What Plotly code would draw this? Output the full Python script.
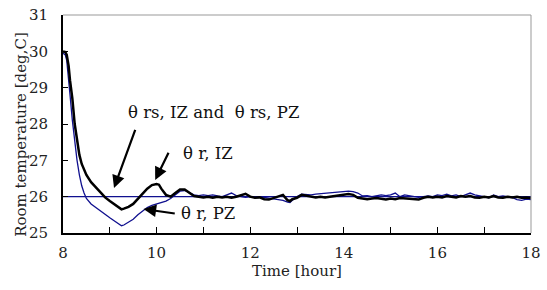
import plotly.graph_objects as go

# Time [hour]
time_h = [8.00, 8.05, 8.08, 8.12, 8.15, 8.20, 8.25, 8.30, 8.35, 8.40, 8.45, 8.50,
          8.6, 8.7, 8.8, 8.9, 9.0, 9.1, 9.2, 9.25, 9.3, 9.4, 9.5, 9.6, 9.7, 9.8, 9.9,
          10.0, 10.05, 10.1, 10.2, 10.3, 10.4, 10.5, 10.6, 10.7, 10.8, 10.9,
          11.0, 11.1, 11.2, 11.3, 11.4, 11.5, 11.6, 11.7, 11.8, 11.9,
          12.0, 12.1, 12.2, 12.3, 12.4, 12.5, 12.6, 12.7, 12.8, 12.85, 12.9,
          13.0, 13.1, 13.2, 13.3, 13.4, 13.5, 13.6, 13.7, 13.8, 13.9,
          14.0, 14.1, 14.2, 14.3, 14.4, 14.5, 14.6, 14.7, 14.8, 14.9,
          15.0, 15.1, 15.2, 15.3, 15.4, 15.5, 15.6, 15.7, 15.8, 15.9,
          16.0, 16.1, 16.2, 16.3, 16.4, 16.5, 16.6, 16.7, 16.8, 16.9,
          17.0, 17.1, 17.2, 17.3, 17.4, 17.5, 17.6, 17.7, 17.8, 17.9, 18.0]

# theta r, IZ (black)
theta_r_iz = [30.00, 29.98, 29.90, 29.60, 29.20, 28.70, 28.00, 27.50, 27.15, 26.90, 26.75, 26.60,
              26.40, 26.25, 26.10, 25.98, 25.88, 25.78, 25.70, 25.65, 25.67, 25.72, 25.80, 25.95, 26.10, 26.22, 26.32,
              26.35, 26.33, 26.22, 26.05, 26.00, 26.10, 26.20, 26.20, 26.10, 26.02, 26.00,
              25.98, 26.00, 25.97, 26.00, 25.98, 26.00, 25.97, 26.00, 26.05, 26.08,
              26.00, 25.97, 25.98, 25.93, 25.92, 25.97, 26.02, 26.05, 25.90, 25.88, 25.93,
              25.97, 26.05, 26.02, 26.00, 25.98, 26.00, 25.98, 26.00, 26.02, 26.03,
              26.05, 26.07, 26.05, 25.97, 25.95, 25.93, 25.95, 25.96, 25.94, 25.92,
              25.95, 25.93, 25.96, 25.95, 25.96, 25.95, 25.92, 25.97, 26.00, 25.98,
              26.00, 25.98, 26.02, 26.00, 25.98, 26.02, 26.00, 26.02, 25.98, 25.97,
              26.00, 25.98, 26.02, 25.98, 25.97, 26.00, 25.98, 26.00, 25.97, 25.98, 25.96]

# theta r, PZ (blue)
theta_r_pz = [29.95, 29.90, 29.75, 29.30, 28.80, 28.10, 27.50, 27.00, 26.60, 26.30, 26.10, 25.95,
              25.80, 25.70, 25.60, 25.50, 25.42, 25.33, 25.25, 25.20, 25.22, 25.30, 25.38, 25.50, 25.60, 25.70, 25.76,
              25.80, 25.82, 25.85, 25.88, 25.95, 26.05, 26.15, 26.17, 26.10, 26.05, 26.03,
              26.05, 26.03, 26.05, 26.02, 26.00, 26.05, 26.10, 26.03, 26.00, 25.98,
              26.00, 25.98, 26.00, 25.98, 25.95, 25.93, 25.92, 25.90, 25.85, 25.84, 25.90,
              26.00, 26.07, 26.05, 26.05, 26.07, 26.08, 26.10, 26.10, 26.12, 26.13,
              26.15, 26.15, 26.14, 26.10, 26.02, 26.03, 26.00, 26.02, 26.05, 26.03,
              26.05, 26.10, 26.00, 26.05, 26.02, 26.00, 25.98, 26.00, 26.02, 26.00,
              26.05, 26.03, 26.07, 26.02, 26.05, 26.00, 26.05, 26.10, 26.05, 26.02,
              26.00, 25.97, 26.05, 26.00, 26.02, 26.00, 25.98, 25.92, 25.90, 25.93, 25.92]

# theta rs, IZ and theta rs, PZ (set point)
setpoint_t = [8, 18]
setpoint = [26, 26]

x_tickvals = list(range(8, 19))
x_ticktext = [str(v) if v % 2 == 0 else "" for v in x_tickvals]
y_tickvals = [25, 26, 27, 28, 29, 30, 31]

TXT = "DejaVu Serif"
NAVY = "#10108f"

fig = go.Figure()
fig.add_trace(go.Scatter(x=setpoint_t, y=setpoint, mode="lines",
                         line=dict(color=NAVY, width=1.2), showlegend=False, hoverinfo="skip"))
fig.add_trace(go.Scatter(x=time_h, y=theta_r_pz, mode="lines",
                         line=dict(color=NAVY, width=1.3), showlegend=False, hoverinfo="skip"))
fig.add_trace(go.Scatter(x=time_h, y=theta_r_iz, mode="lines",
                         line=dict(color="black", width=2.5), showlegend=False, hoverinfo="skip"))

arrows = [
    dict(x=9.09, y=26.24, ax=9.555, ay=27.88),
    dict(x=9.97, y=26.46, ax=10.27, ay=27.25),
    dict(x=9.72, y=25.66, ax=10.42, ay=25.53),
]
for a in arrows:
    fig.add_annotation(x=a["x"], y=a["y"], ax=a["ax"], ay=a["ay"], xref="x", yref="y",
                       axref="x", ayref="y", text="", showarrow=True,
                       arrowhead=2, arrowsize=1.15, arrowwidth=2.2, arrowcolor="black")

labels = [
    dict(x=9.345, y=28.31, text="θ rs, IZ and  θ rs, PZ"),
    dict(x=10.52, y=27.2, text="θ r, IZ"),
    dict(x=10.48, y=25.53, text="θ r, PZ"),
]
for l in labels:
    fig.add_annotation(x=l["x"], y=l["y"], text=l["text"], showarrow=False,
                       xanchor="left", yanchor="middle",
                       font=dict(family=TXT, size=16.5, color="#111111"))

# y-axis title (placed like the reference, slightly below centre)
fig.add_annotation(xref="paper", yref="paper", x=-0.0903, y=0.4537,
                   text="Room temperature [deg,C]", textangle=-90, showarrow=False,
                   xanchor="center", yanchor="middle",
                   font=dict(family=TXT, size=15, color="#222222"))

# gray top/right frame
fig.add_shape(type="line", xref="paper", yref="paper", x0=0, x1=1, y0=1, y1=1,
              line=dict(color="#999999", width=1))
fig.add_shape(type="line", xref="paper", yref="paper", x0=1, x1=1, y0=0, y1=1,
              line=dict(color="#999999", width=1))

fig.update_layout(
    width=547, height=290,
    margin=dict(l=63, r=8, t=6, b=57),
    paper_bgcolor="white", plot_bgcolor="white",
    xaxis=dict(range=[8, 18], tickvals=x_tickvals, ticktext=x_ticktext,
               ticks="inside", ticklen=6, tickwidth=1, tickcolor="black",
               showline=True, linecolor="black", linewidth=2, showgrid=False, zeroline=False,
               tickfont=dict(family=TXT, size=15, color="#222222"), ticklabeloverflow="allow",
               ticklabelstandoff=5,
               title=dict(text="Time [hour]", font=dict(family=TXT, size=15, color="#222222"), standoff=4)),
    yaxis=dict(range=[25, 31], tickvals=y_tickvals,
               ticks="inside", ticklen=5, tickwidth=1, tickcolor="black",
               showline=True, linecolor="black", linewidth=2, showgrid=False, zeroline=False,
               tickfont=dict(family=TXT, size=15, color="#222222"), ticklabelstandoff=10,
               ticklabeloverflow="allow"),
)

fig.write_html("out.html", config={"displayModeBar": False, "staticPlot": True},
               post_script="document.body.style.margin='0';document.body.style.overflow='hidden';")
